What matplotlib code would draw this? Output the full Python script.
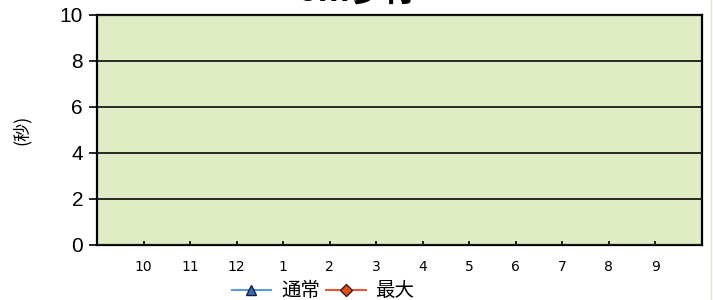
import matplotlib.pyplot as plt
import numpy as np
from matplotlib.lines import Line2D

plt.rcParams['font.family'] = ['Noto Sans CJK JP', 'DejaVu Sans']

# 月ラベルとデータ（値は空欄）
months = ['10', '11', '12', '1', '2', '3', '4', '5', '6', '7', '8', '9']
normal = [np.nan] * 12   # 通常
maximum = [np.nan] * 12  # 最大

fig = plt.figure(figsize=(7.13, 3.0), dpi=100)
ax = fig.add_axes([97 / 713, 55 / 300, 605 / 713, 230 / 300])
ax.set_facecolor('#e0ecc4')

x = np.arange(len(months))
ax.plot(x, normal, color='#5b9bd5', marker='^', markerfacecolor='#2f6fbf',
        markeredgecolor='#1a1a3a', markersize=7, label='通常')
ax.plot(x, maximum, color='#e8563a', marker='D', markerfacecolor='#e0501e',
        markeredgecolor='#3a1a10', markersize=6, label='最大')

ax.set_xlim(-1, 12)
ax.set_ylim(0, 10)
ax.set_yticks([0, 2, 4, 6, 8, 10])
ax.set_xticks(x)
ax.set_xticklabels(months)
ax.grid(axis='y', color='#1a1a1a', linewidth=1.3)
ax.set_axisbelow(False)

for s in ax.spines.values():
    s.set_color('black')
    s.set_linewidth(1.6)

ax.tick_params(axis='y', direction='out', length=6, width=1.2, pad=4,
               labelsize=15, labelfontfamily='Liberation Sans')
ax.tick_params(axis='x', direction='in', length=3, width=1.2, pad=11,
               labelsize=10, labelfontfamily='DejaVu Sans')

# 縦軸ラベル
fig.text(22 / 713, 1 - 130 / 300, '(秒)', rotation=90, ha='center',
         va='center', fontsize=13)

fig.text(357 / 713, 0.993, '5m歩行', ha='center', va='baseline',
         fontsize=24, fontweight='bold')

fig.legend(loc='lower center', bbox_to_anchor=(323 / 713, -0.063), ncol=2,
           frameon=False, fontsize=14, handlelength=2.05, columnspacing=0.3,
           handletextpad=0.5)

# 右端の薄い枠線
fig.add_artist(Line2D([711 / 713, 711 / 713], [0, 1], color='#d8e8cc', linewidth=1))

fig.savefig('out.png', dpi=100)
